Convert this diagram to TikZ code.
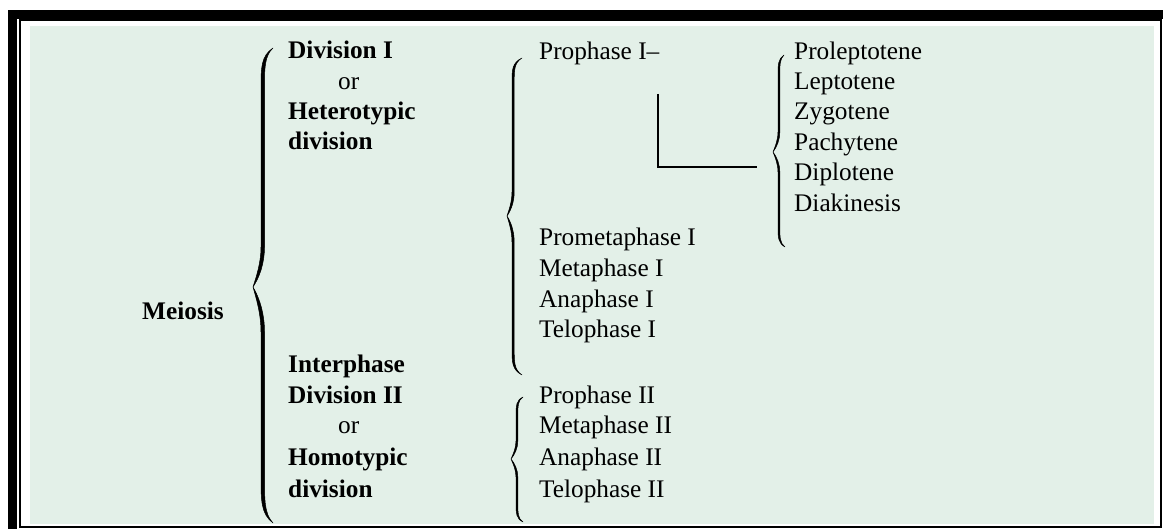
\documentclass[tikz,border=0pt]{standalone}
\usepackage{fontspec}
\setmainfont{Liberation Serif}
\definecolor{panel}{RGB}{227,240,232}
% half of a tapered curly brace: tip x, stem x, end x, end y, mid y, thickness, curve length, sign
\newcommand{\halfbrace}[8]{%
  \filldraw[black, line width=0.5pt, line join=round] (#3,#4) .. controls (#2,{#4+(#8)*0.2*#7}) and (#2,{#4+(#8)*0.5*#7}) .. (#2,{#4+(#8)*#7})
   -- (#2,{#5-(#8)*#7}) .. controls (#2,{#5-(#8)*0.6*#7}) and ({#1+0.4*(#2-#1)},{#5-(#8)*0.25*#7}) .. (#1,#5)
   .. controls ({#1+0.4*(#2-#1)+#6},{#5-(#8)*0.25*#7}) and ({#2+#6},{#5-(#8)*0.6*#7}) .. ({#2+#6},{#5-(#8)*#7})
   -- ({#2+#6},{#4+(#8)*#7}) .. controls ({#2+#6},{#4+(#8)*0.5*#7}) and ({#2+#6},{#4+(#8)*0.2*#7}) .. (#3,#4) -- cycle;}
\begin{document}
\begin{tikzpicture}[x=1pt,y=-1pt,
  txt/.style={anchor=base west, inner sep=0pt, font=\fontsize{25.3}{30}\selectfont},
  btxt/.style={anchor=base west, inner sep=0pt, font=\fontsize{25.3}{30}\selectfont\bfseries},
  link/.style={draw=black, line width=1.2pt}]
\useasboundingbox (0,0) rectangle (1163,529);
\fill[white] (0,0) rectangle (1163,529);
% frame
\fill[black] (8,10) rectangle (1163,19);
\fill[black] (8,10) rectangle (17,529);
\draw[line width=2pt] (20,20.5) rectangle (1160.5,527);
\fill[panel] (30,26) rectangle (1154,524);

% left column
\node[btxt] (meiosis) at (142,320) {Meiosis};
\node[btxt] (div1) at (288,59) {Division I};
\node[txt] (or1) at (338,90) {or};
\node[btxt] (hetero) at (288,120) {Heterotypic};
\node[btxt] (hdiv) at (288,150) {division};
\node[btxt] (inter) at (288,373) {Interphase};
\node[btxt] (div2) at (288,404) {Division II};
\node[txt] (or2) at (338,434) {or};
\node[btxt] (homo) at (288,465) {Homotypic};
\node[btxt] (mdiv) at (288,497) {division};

% middle column
\node[txt] (pro1) at (539,60) {Prophase I–};
\node[txt] (prometa1) at (539,246) {Prometaphase I};
\node[txt] (meta1) at (539,277) {Metaphase I};
\node[txt] (ana1) at (539,308) {Anaphase I};
\node[txt] (telo1) at (539,338) {Telophase I};
\node[txt] (pro2) at (539,404) {Prophase II};
\node[txt] (meta2) at (539,434) {Metaphase II};
\node[txt] (ana2) at (539,465) {Anaphase II};
\node[txt] (telo2) at (539,497) {Telophase II};

% right column
\node[txt] (prolep) at (794,60) {Proleptotene};
\node[txt] (lep) at (794,90) {Leptotene};
\node[txt] (zyg) at (794,120) {Zygotene};
\node[txt] (pach) at (794,151) {Pachytene};
\node[txt] (dipl) at (794,181) {Diplotene};
\node[txt] (diak) at (794,212) {Diakinesis};

% braces
\halfbrace{253}{261}{273}{48}{287}{3.5}{40}{1}
\halfbrace{253}{261}{273}{523}{287}{3.5}{45}{-1}
\halfbrace{507}{512}{522}{58}{216}{2.2}{24}{1}
\halfbrace{507}{512}{522}{375}{216}{2.2}{26}{-1}
\halfbrace{511}{516}{523}{397}{459}{1.8}{18}{1}
\halfbrace{511}{516}{523}{522}{459}{1.8}{18}{-1}
\halfbrace{773}{778}{784}{55}{152}{1.8}{20}{1}
\halfbrace{773}{778}{785}{247}{152}{1.8}{20}{-1}

% connector from Prophase I to its sub-stages
\coordinate (c1) at (658,94);
\coordinate (c2) at (757,167);
\draw[link] (c1) |- (c2);
\end{tikzpicture}
\end{document}
